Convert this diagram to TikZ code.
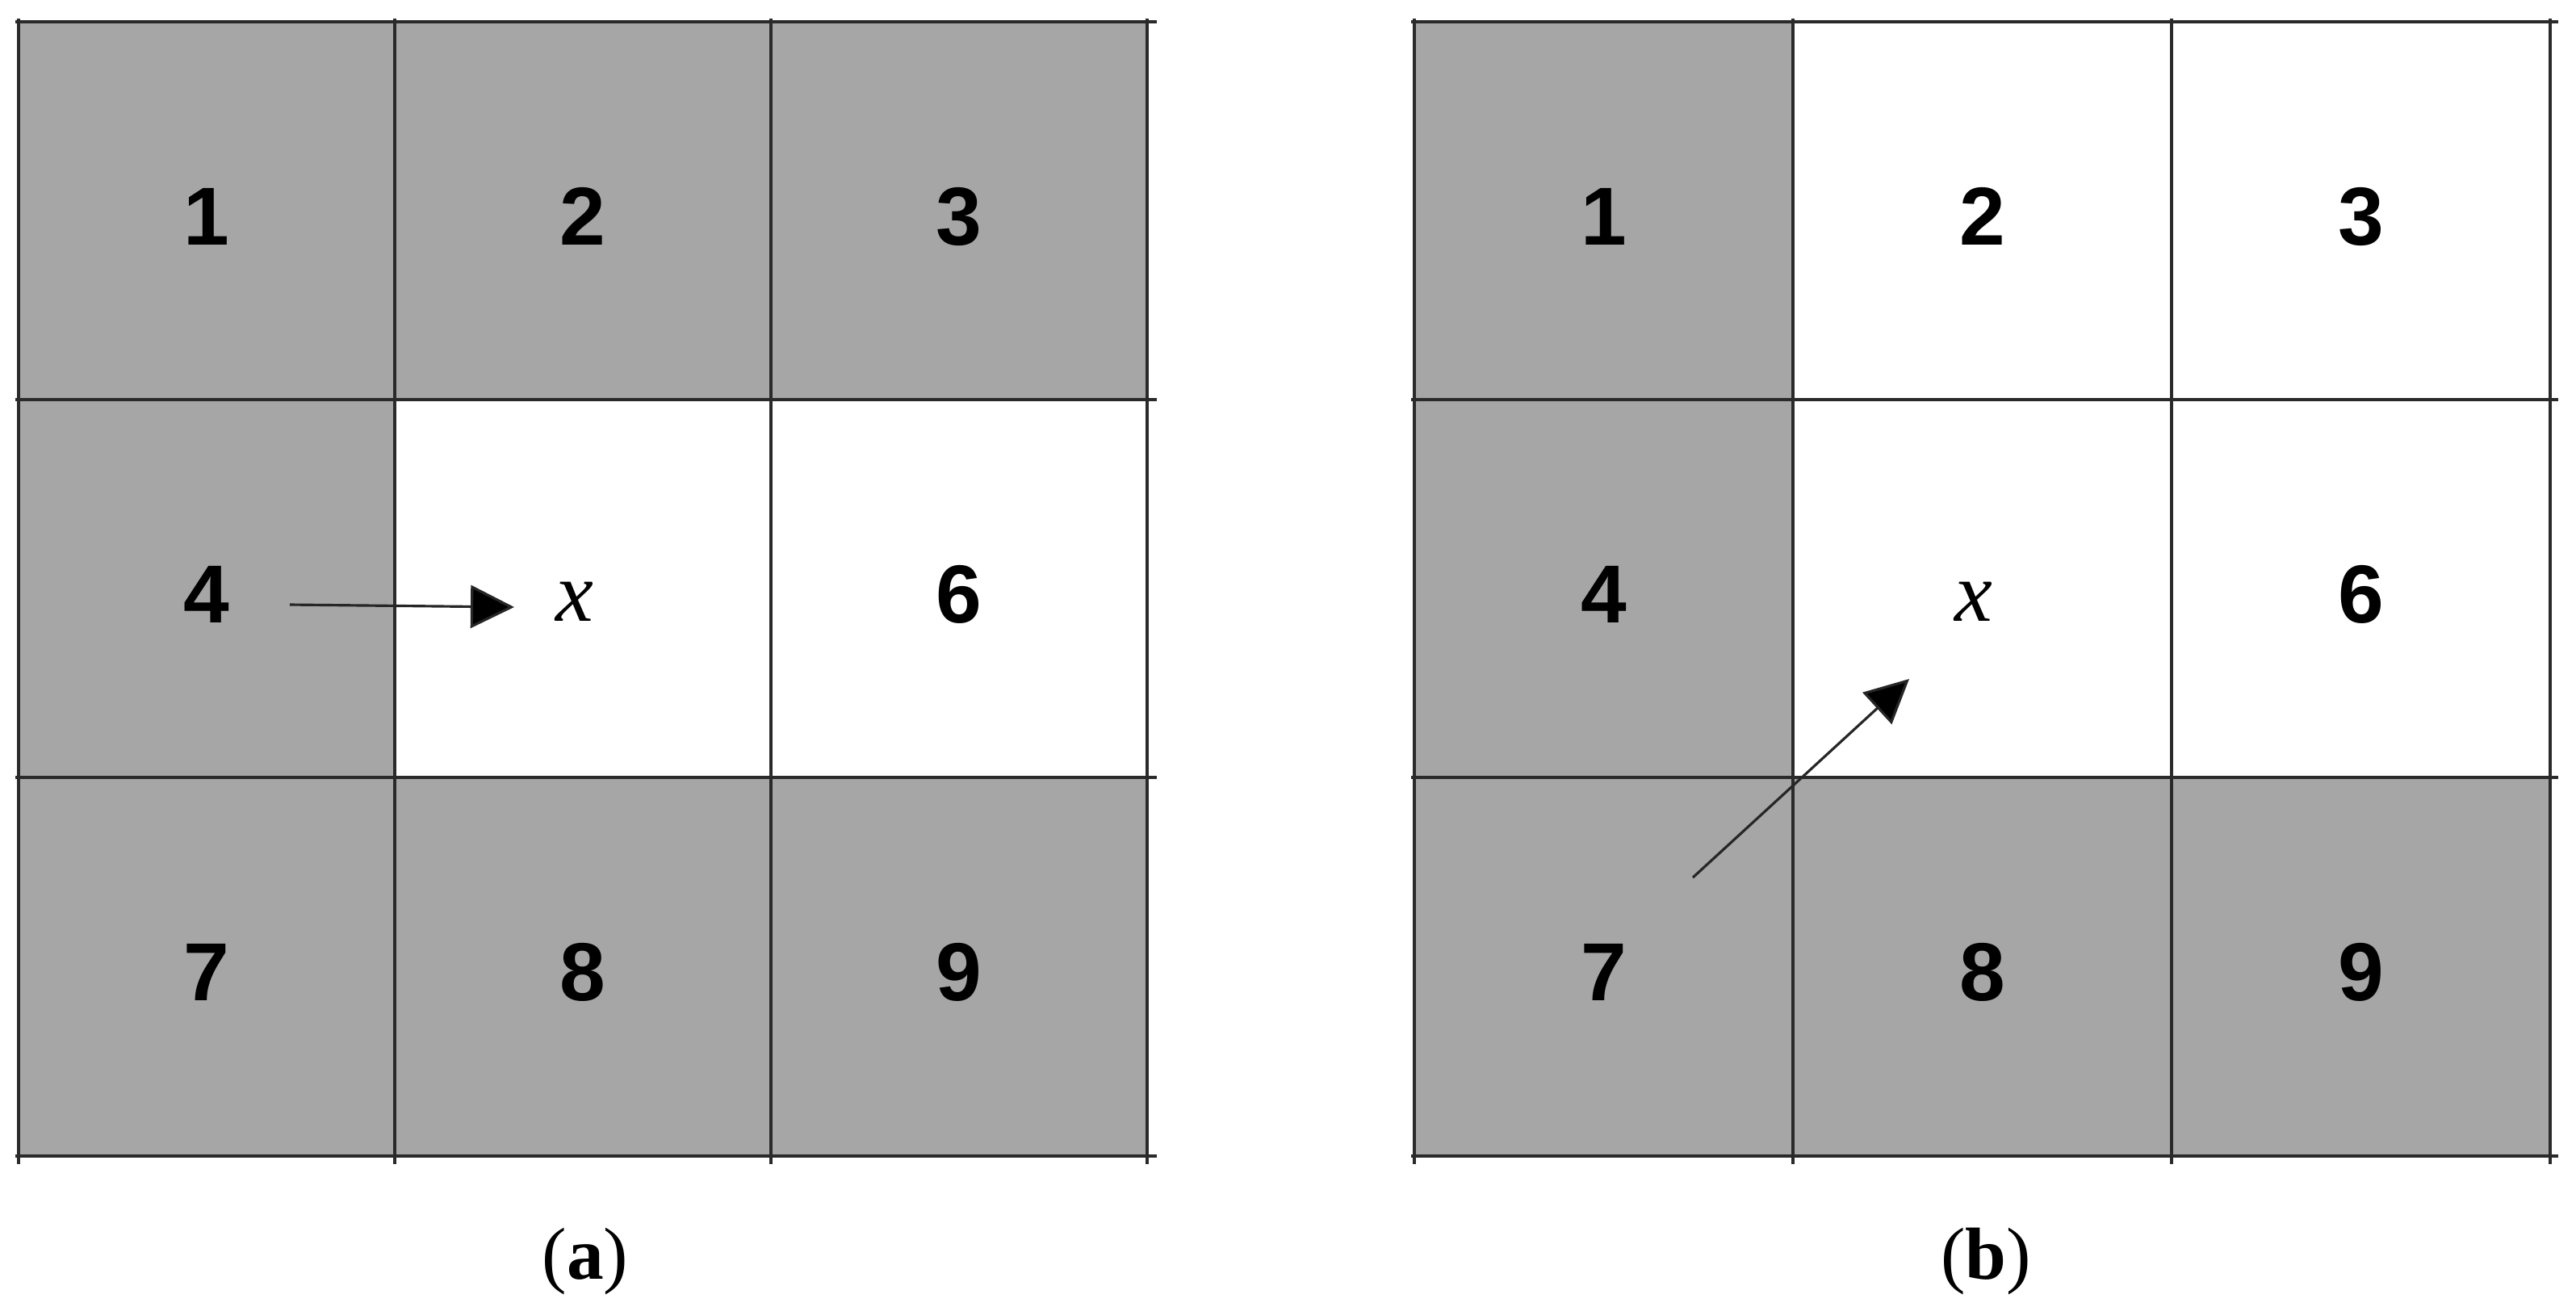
\documentclass[tikz,border=0pt]{standalone}
\usepackage{fontspec}
\setmainfont{Liberation Serif}
\setsansfont{Liberation Sans}
\usetikzlibrary{arrows.meta}

\definecolor{cellgray}{HTML}{A6A6A6}
\definecolor{linegray}{HTML}{2A2A2A}

\tikzset{
  gridline/.style={draw=linegray, line width=1.1pt},
  num/.style={font=\sffamily\bfseries\fontsize{29}{32}\selectfont, inner sep=0pt},
  pix/.style={font=\itshape\fontsize{30}{33}\selectfont, inner sep=0pt},
  movearrow/.style={draw=black!85, line width=0.9pt, -{Triangle[length=0.54cm, width=0.53cm, fill=black]}},
  caption/.style={font=\fontsize{26}{30}\selectfont, inner sep=0pt}
}

\begin{document}
\begin{tikzpicture}[y=-1cm]
    \useasboundingbox (0,0) rectangle (31.91,16.18);
    % (a)
    \fill[cellgray] (0.23,0.27) rectangle (14.21,14.32);
    \fill[white] (4.89,4.95) rectangle (14.21,9.63);
    % (b)
    \fill[cellgray] (17.52,0.27) rectangle (31.59,14.32);
    \fill[white] (22.21,0.27) rectangle (31.59,9.63);

    \foreach \x in {0.23,4.89,9.55,14.21,17.52,22.21,26.90,31.59}
        \draw[gridline] (\x,0.23) -- (\x,14.42);
    \foreach \y in {0.27,4.95,9.63,14.32} {
        \draw[gridline] (0.19,\y) -- (14.33,\y);
        \draw[gridline] (17.48,\y) -- (31.69,\y);
    }

    \node[num] (a1) at (2.56,2.68) {1};
    \node[num] (a2) at (7.22,2.68) {2};
    \node[num] (a3) at (11.88,2.68) {3};
    \node[num] (a4) at (2.56,7.36) {4};
    \node[pix] (ax) at (7.12,7.45) {x};
    \node[num] (a6) at (11.88,7.36) {6};
    \node[num] (a7) at (2.56,12.04) {7};
    \node[num] (a8) at (7.22,12.04) {8};
    \node[num] (a9) at (11.88,12.04) {9};

    \node[num] (b1) at (19.87,2.68) {1};
    \node[num] (b2) at (24.56,2.68) {2};
    \node[num] (b3) at (29.25,2.68) {3};
    \node[num] (b4) at (19.87,7.36) {4};
    \node[pix] (bx) at (24.45,7.45) {x};
    \node[num] (b6) at (29.25,7.36) {6};
    \node[num] (b7) at (19.87,12.04) {7};
    \node[num] (b8) at (24.56,12.04) {8};
    \node[num] (b9) at (29.25,12.04) {9};

    \coordinate (afrom) at (3.59,7.49);
    \coordinate (ato) at (6.37,7.52);
    \draw[movearrow] (afrom) -- (ato);
    \coordinate (bfrom) at (20.97,10.87);
    \coordinate (bto) at (23.65,8.41);
    \draw[movearrow] (bfrom) -- (bto);

    \node[caption] (capa) at (7.25,15.62) {(\textbf{a})};
    \node[caption] (capb) at (24.60,15.62) {(\textbf{b})};
\end{tikzpicture}
\end{document}
